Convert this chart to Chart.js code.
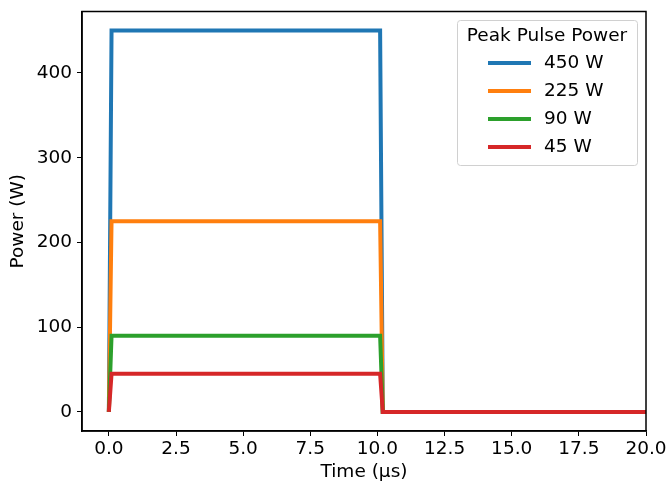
<!DOCTYPE html>
<html>
<head>
<meta charset="utf-8">
<script src="https://cdn.jsdelivr.net/npm/chart.js@4"></script>
<style>
  html, body { margin: 0; padding: 0; background: #fff; }
  #wrap { width: 668px; height: 484px; }
</style>
</head>
<body>
<div id="wrap"><canvas id="c" width="668" height="484"></canvas></div>
<script>
// pulse shape (time in us)
var timeUs = [0, 0.1, 10.1, 10.2, 20];
var labels = ['450 W', '225 W', '90 W', '45 W'];
var p450 = [0, 450, 450, 0, 0];
var p225 = [0, 225, 225, 0, 0];
var p90 = [0, 90, 90, 0, 0];
var p45 = [0, 45, 45, 0, 0];
var colors = ['#1f77b4', '#ff7f0e', '#2ca02c', '#d62728'];
var xTicks = [0, 2.5, 5, 7.5, 10, 12.5, 15, 17.5, 20];
var yTicks = [0, 100, 200, 300, 400];
var legendTitle = 'Peak Pulse Power';

var FONT = 'DejaVu Sans';
var FS = 18.5;

function toPoints(vals) {
  return vals.map(function (v, i) { return {x: timeUs[i], y: v}; });
}

var series = [p450, p225, p90, p45];
var datasets = series.map(function (s, i) {
  return {
    label: labels[i],
    data: toPoints(s),
    borderColor: colors[i],
    backgroundColor: colors[i],
    borderWidth: 4,
    pointRadius: 0,
    tension: 0,
    fill: false,
    order: series.length - i
  };
});

// frame on all four sides + matplotlib-like legend
var framePlugin = {
  id: 'frame',
  afterDraw: function (chart) {
    var ctx = chart.ctx, a = chart.chartArea;
    ctx.save();
    ctx.strokeStyle = '#000';
    ctx.lineWidth = 1.5;
    ctx.strokeRect(a.left, a.top, a.right - a.left, a.bottom - a.top);

    // legend box
    var bx = 457, by = 20, bw = 180, bh = 145;
    ctx.fillStyle = 'rgba(255,255,255,0.8)';
    ctx.strokeStyle = '#d0d0d0';
    ctx.lineWidth = 1;
    ctx.beginPath();
    if (ctx.roundRect) ctx.roundRect(bx + 0.5, by + 0.5, bw, bh, 3);
    else ctx.rect(bx + 0.5, by + 0.5, bw, bh);
    ctx.fill();
    ctx.stroke();

    ctx.fillStyle = '#000';
    ctx.font = FS + 'px "' + FONT + '"';
    ctx.textBaseline = 'middle';
    ctx.textAlign = 'center';
    ctx.fillText(legendTitle, bx + bw / 2, 36);
    ctx.textAlign = 'left';
    chart.data.datasets.forEach(function (ds, i) {
      var y = 63 + i * 28;
      ctx.strokeStyle = ds.borderColor;
      ctx.lineWidth = 4;
      ctx.beginPath();
      ctx.moveTo(488, y);
      ctx.lineTo(531, y);
      ctx.stroke();
      ctx.fillStyle = '#000';
      ctx.fillText(ds.label, 544, y);
    });
    ctx.restore();
  }
};

new Chart(document.getElementById('c'), {
  type: 'line',
  data: {datasets: datasets},
  plugins: [framePlugin],
  options: {
    responsive: false,
    animation: false,
    layout: {padding: {left: 0, right: 22, top: 11.5, bottom: 0}},
    plugins: {legend: {display: false}, tooltip: {enabled: false}},
    scales: {
      x: {
        type: 'linear',
        min: -1,
        max: 20,
        afterBuildTicks: function (scale) { scale.ticks = xTicks.map(function (v) { return {value: v}; }); },
        afterFit: function (scale) { scale.height = 53; scale.paddingLeft = 0; scale.paddingRight = 0; },
        grid: {drawOnChartArea: false, drawTicks: true, tickLength: 5, color: '#000', lineWidth: 1},
        border: {display: true, color: '#000', width: 1.5},
        ticks: {
          color: '#000',
          font: {family: FONT, size: FS, lineHeight: 1.0},
          padding: 4,
          maxRotation: 0,
          autoSkip: false,
          callback: function (v) { return Number(v).toFixed(1); }
        },
        title: {display: true, text: 'Time (μs)', color: '#000', font: {family: FONT, size: FS, lineHeight: 1.0}, padding: {top: 0, bottom: 3}}
      },
      y: {
        type: 'linear',
        min: -22.5,
        max: 472.5,
        afterBuildTicks: function (scale) { scale.ticks = yTicks.map(function (v) { return {value: v}; }); },
        afterFit: function (scale) { scale.width = 82; scale.paddingTop = 0; scale.paddingBottom = 0; },
        grid: {drawOnChartArea: false, drawTicks: true, tickLength: 5, color: '#000', lineWidth: 1},
        border: {display: true, color: '#000', width: 1.5},
        ticks: {
          color: '#000',
          font: {family: FONT, size: FS},
          padding: 5,
          autoSkip: false
        },
        title: {display: true, text: 'Power (W)', color: '#000', font: {family: FONT, size: FS, lineHeight: 1.0}, padding: {top: 9, bottom: 0}}
      }
    }
  }
});
</script>
</body>
</html>
